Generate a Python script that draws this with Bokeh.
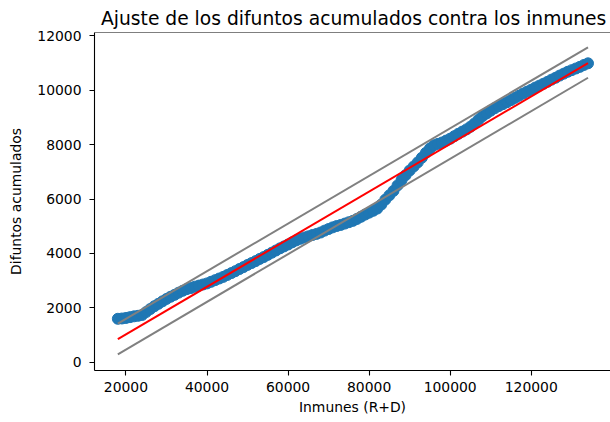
from bokeh.plotting import figure
from bokeh.models import Range1d, FixedTicker, BasicTickFormatter, Span, Title
from bokeh.embed import file_html
from bokeh.resources import INLINE

# Scatter data: inmunes (R+D) vs difuntos acumulados
inmunes = [18000, 19000, 20000, 21000, 22000, 23000, 24000, 25000, 26000, 27000,
           28000, 29000, 30000, 31000, 32000, 33000, 34000, 35000, 36000, 37000,
           38000, 39000, 40000, 41000, 42000, 43000, 44000, 45000, 46000, 47000,
           48000, 49000, 50000, 51000, 52000, 53000, 54000, 55000, 56000, 57000,
           58000, 59000, 60000, 61000, 62000, 63000, 64000, 65000, 66000, 67000,
           68000, 69000, 70000, 71000, 72000, 73000, 74000, 75000, 76000, 77000,
           78000, 79000, 80000, 81000, 82000, 83000, 84000, 85000, 86000, 87000,
           88000, 89000, 90000, 91000, 92000, 93000, 94000, 95000, 96000, 97000,
           98000, 99000, 100000, 101000, 102000, 103000, 104000, 105000, 106000, 107000,
           108000, 109000, 110000, 111000, 112000, 113000, 114000, 115000, 116000, 117000,
           118000, 119000, 120000, 121000, 122000, 123000, 124000, 125000, 126000, 127000,
           128000, 129000, 130000, 131000, 132000, 133000, 134000]
difuntos = [1600, 1610, 1630, 1660, 1690, 1710, 1740, 1850, 1960, 2060,
            2150, 2240, 2330, 2410, 2480, 2560, 2630, 2690, 2730, 2780,
            2820, 2860, 2900, 2960, 3020, 3080, 3140, 3210, 3280, 3350,
            3430, 3500, 3580, 3650, 3720, 3800, 3870, 3950, 4030, 4110,
            4190, 4260, 4330, 4410, 4480, 4540, 4590, 4630, 4680, 4720,
            4770, 4840, 4900, 4960, 5010, 5050, 5100, 5150, 5200, 5270,
            5350, 5430, 5500, 5570, 5650, 5800, 5980, 6140, 6300, 6500,
            6700, 6880, 7050, 7200, 7350, 7520, 7700, 7860, 7980, 8030,
            8080, 8150, 8220, 8310, 8400, 8480, 8560, 8660, 8780, 8920,
            9050, 9150, 9250, 9340, 9420, 9490, 9560, 9640, 9720, 9800,
            9880, 9950, 10020, 10100, 10170, 10240, 10310, 10390, 10460, 10540,
            10610, 10680, 10740, 10800, 10860, 10930, 10990]

# Fitted line and band
fit_x = [18000, 134000]
fit_y = [855, 10995]
upper_y = [1425, 11580]
lower_y = [295, 10460]

x_ticks = [20000, 40000, 60000, 80000, 100000, 120000]
y_ticks = [0, 2000, 4000, 6000, 8000, 10000, 12000]

FONT = "DejaVu Sans"

p = figure(width=610, height=422, output_backend="svg", toolbar_location=None,
           x_range=Range1d(12240, 139550), y_range=Range1d(-301, 12123),
           min_border_left=94, min_border_right=0, min_border_top=32, min_border_bottom=52)

p.title = Title(text="Ajuste de los difuntos acumulados contra los inmunes",
                align="left", offset=6.5, text_font=FONT, text_font_size="18.7px",
                text_font_style="normal", text_color="black", standoff=8)

p.scatter(inmunes, difuntos, size=11, color="#1f77b4", line_color="#1f77b4")
p.line(fit_x, fit_y, line_color="red", line_width=2)
p.line(fit_x, upper_y, line_color="grey", line_width=2)
p.line(fit_x, lower_y, line_color="grey", line_width=2)

p.xgrid.visible = False
p.ygrid.visible = False
p.outline_line_color = None
p.add_layout(Span(location=12123, dimension="width", line_color="black", line_width=1.1))

for ax in (p.xaxis[0], p.yaxis[0]):
    ax.axis_line_color = "black"
    ax.axis_line_width = 1.1
    ax.major_tick_line_color = "black"
    ax.major_tick_line_width = 1.1
    ax.major_tick_out = 5
    ax.major_tick_in = 0
    ax.minor_tick_line_color = None
    ax.major_label_text_font = FONT
    ax.major_label_text_font_size = "13.9px"
    ax.major_label_text_color = "black"
    ax.axis_label_text_font = FONT
    ax.axis_label_text_font_size = "13.9px"
    ax.axis_label_text_font_style = "normal"
    ax.axis_label_text_color = "black"
    ax.formatter = BasicTickFormatter(use_scientific=False)

p.xaxis[0].ticker = FixedTicker(ticks=x_ticks)
p.yaxis[0].ticker = FixedTicker(ticks=y_ticks)
p.xaxis[0].axis_label = "Inmunes (R+D)"
p.yaxis[0].axis_label = "Difuntos acumulados"
p.xaxis[0].major_label_standoff = 6
p.xaxis[0].axis_label_standoff = 4
p.yaxis[0].major_label_standoff = 8
p.yaxis[0].axis_label_standoff = 10

open("out.html", "w").write(file_html(p, INLINE))
